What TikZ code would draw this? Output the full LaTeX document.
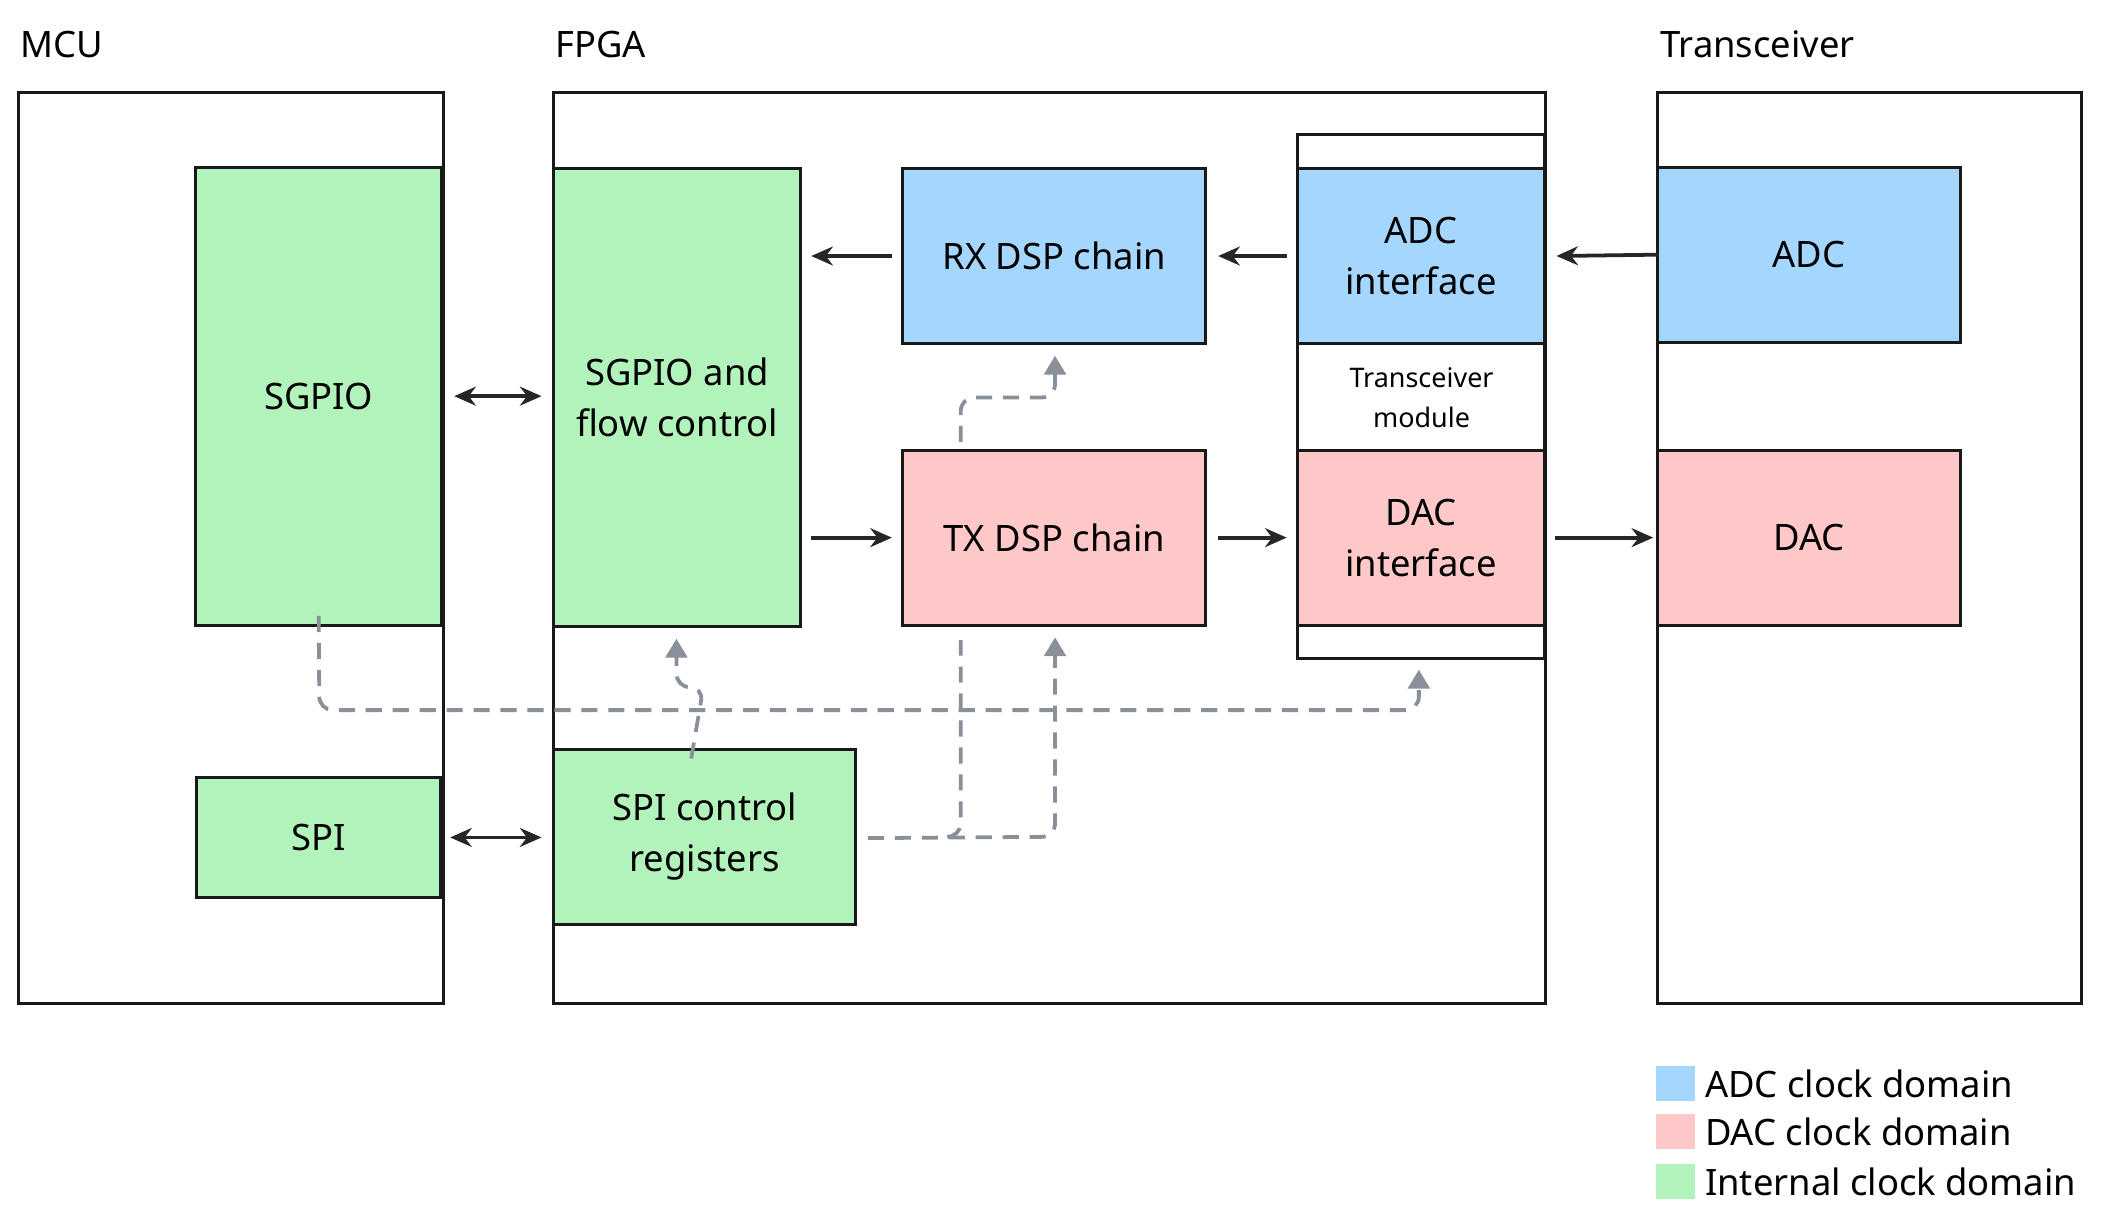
\documentclass[tikz,border=0pt]{standalone}
\usepackage{fontspec}
\setmainfont{Noto Sans}
\usetikzlibrary{arrows.meta,positioning}
\definecolor{cblue}{HTML}{A5D7FE}
\definecolor{cpink}{HTML}{FEC8C9}
\definecolor{cgreen}{HTML}{B2F2BB}
\definecolor{cdash}{HTML}{8A9099}
\begin{document}
\begin{tikzpicture}[x=1pt,y=-1pt,
  box/.style={draw=black!90,line width=2.2pt,inner sep=0pt,align=center,font=\fontsize{27}{38}\selectfont},
  lbl/.style={anchor=west,font=\fontsize{27}{32}\selectfont,inner sep=0pt},
  sarr/.style={line width=2.8pt,black!85,-{Stealth[length=16pt,width=14pt]}},
  darr/.style={line width=2.8pt,black!85,{Stealth[length=16pt,width=14pt]}-{Stealth[length=16pt,width=14pt]}},
  dl/.style={line width=2.8pt,cdash,dash pattern=on 12pt off 8pt,rounded corners=10pt},
  dtip/.style={-{Triangle[length=14pt,width=16pt]}}]
\useasboundingbox (0,0) rectangle (1560,906);
\def\bx#1#2#3#4#5#6#7{\node[box,fill=#6,minimum width={#3-#1},minimum height={#4-#2}] (#5) at ({(#1+#3)/2},{(#2+#4)/2}) {#7};}
% containers
\bx{14}{69}{329}{745}{mcu}{white}{}
\bx{411}{69}{1147}{745}{fpga}{white}{}
\bx{1230}{69}{1545}{745}{trx}{white}{}
\node[lbl] (lmcu) at (15,33) {MCU};
\node[lbl] (lfpga) at (412,33) {FPGA};
\node[lbl] (ltrx) at (1232,33) {Transceiver};
% blocks
\bx{145}{124}{328}{464}{sgpio}{cgreen}{SGPIO}
\bx{146}{577}{327}{666}{spi}{cgreen}{SPI}
\bx{411}{125}{594}{465}{sfc}{cgreen}{SGPIO and\\flow control}
\bx{411}{556}{635}{686}{spic}{cgreen}{SPI control\\registers}
\bx{670}{125}{895}{255}{rx}{cblue}{RX DSP chain}
\bx{670}{334}{895}{464}{tx}{cpink}{TX DSP chain}
\bx{963}{100}{1146}{489}{tm}{white}{}
\bx{963}{125}{1146}{255}{adcif}{cblue}{ADC\\interface}
\bx{963}{334}{1146}{464}{dacif}{cpink}{DAC\\interface}
\node[font=\fontsize{20}{30}\selectfont,align=center] (tml) at (1055,295) {Transceiver\\module};
\bx{1230}{124}{1455}{254}{adc}{cblue}{ADC}
\bx{1230}{334}{1455}{464}{dac}{cpink}{DAC}
% legend
\node[fill=cblue,minimum width=29pt,minimum height=26pt,inner sep=0pt] (k1) at (1243.5,804) {};
\node[fill=cpink,minimum width=29pt,minimum height=26pt,inner sep=0pt] (k2) at (1243.5,840) {};
\node[fill=cgreen,minimum width=29pt,minimum height=26pt,inner sep=0pt] (k3) at (1243.5,877) {};
\node[lbl,right=7pt of k1] {ADC clock domain};
\node[lbl,right=7pt of k2] {DAC clock domain};
\node[lbl,right=7pt of k3] {Internal clock domain};
% solid arrows
\draw[darr] ([xshift=8pt]sgpio.east) -- ([xshift=-8pt]sfc.west|-sgpio.east);
\draw[darr] ([xshift=6pt]spi.east) -- ([xshift=-8pt]spic.west|-spi.east);
\draw[sarr] ([xshift=-7pt]rx.west) -- ([xshift=7pt]sfc.east|-rx.west);
\draw[sarr] ([xshift=-7pt]adcif.west) -- ([xshift=8pt]rx.east);
\draw[sarr] ([xshift=2pt]adc.west) -- ([xshift=8pt]adcif.east);
\draw[sarr] ([xshift=7pt]sfc.east|-tx.west) -- ([xshift=-7pt]tx.west);
\draw[sarr] ([xshift=8pt]tx.east) -- ([xshift=-7pt]dacif.west);
\draw[sarr] ([xshift=7pt]dacif.east|-dac.west) -- ([xshift=-2pt]dac.west);
% dashed
\coordinate (c1) at (1053,497);
\draw[dl,dtip] ([yshift=8pt]sgpio.south) -- (237,527) -- (1053,527) -- (c1);
\coordinate (c2) at (502,474);
\draw[dl,dtip] ([xshift=-10pt,yshift=-8pt]spic.north) -- (522,510) -- (502,510) -- (c2);
\coordinate (c3) at (783,473);
\draw[dl,dtip] ([xshift=8pt,yshift=-1pt]spic.east) -- (783,621) -- (c3);
\draw[dl] (703,621) -- (713,621) -- (713,475);
\coordinate (c4) at (783,264);
\draw[dl,dtip] (713,328) -- (713,295) -- (783,295) -- (c4);
\end{tikzpicture}
\end{document}
